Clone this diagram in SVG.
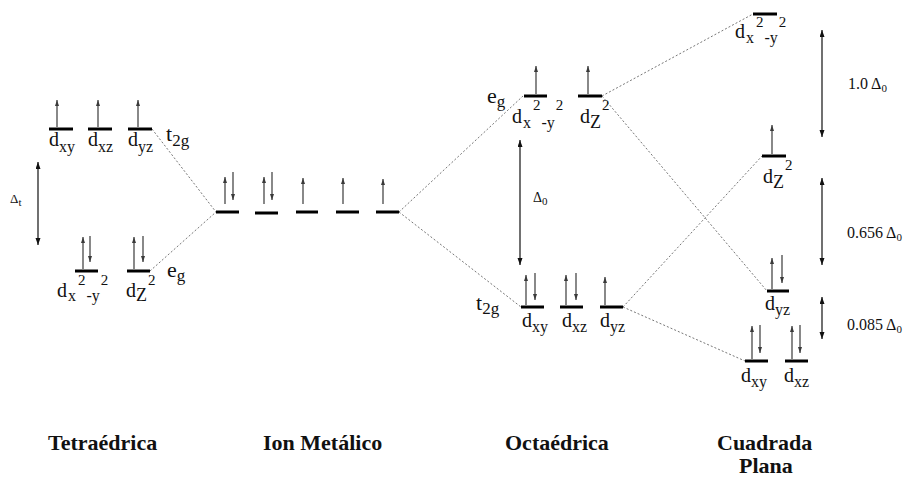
<svg xmlns="http://www.w3.org/2000/svg" width="911" height="478" viewBox="0 0 911 478" font-family="'Liberation Serif', 'Times New Roman', 'DejaVu Serif', serif">
  <style>
    .bar { stroke: #000; stroke-width: 3; }
    .e { stroke: #3a3a3a; stroke-width: 1.2; marker-end: url(#eh); }
    .gap { stroke: #111; stroke-width: 1.2; marker-start: url(#gh); marker-end: url(#gh); }
    .dot { stroke: #777; stroke-width: 1; stroke-dasharray: 2 2; fill: none; }
    text { font-family: "Liberation Serif", "Times New Roman", "DejaVu Serif", serif; fill: #111; }
    .d { font-size: 20px; }
    .sb { font-size: 16px; }
    .sp { font-size: 15px; }
    .z { font-size: 18px; }
    .lv { font-size: 22px; }
    .lvs { font-size: 17px; }
    .gv { font-size: 16px; }
    .gvs { font-size: 11px; }
    .title { font-size: 22px; font-weight: bold; }
  </style>
  <defs>
    <!-- electron spin arrowhead -->
    <marker id="eh" markerUnits="userSpaceOnUse" markerWidth="7" markerHeight="5" refX="6" refY="2" orient="auto">
      <path d="M0,0 L6,2 L0,4 z" fill="#3a3a3a"/>
    </marker>
    <!-- energy gap arrowhead -->
    <marker id="gh" markerUnits="userSpaceOnUse" markerWidth="8" markerHeight="6" refX="7" refY="2.5" orient="auto-start-reverse">
      <path d="M0,0 L7,2.5 L0,5 z" fill="#111"/>
    </marker>
  </defs>

  <!-- correlation lines between levels -->
  <g id="connectors">
    <line class="dot" x1="152" y1="129" x2="216" y2="212"/>
    <line class="dot" x1="150" y1="271" x2="216" y2="212"/>
    <line class="dot" x1="399" y1="212" x2="523" y2="96"/>
    <line class="dot" x1="399" y1="212" x2="521" y2="307"/>
    <line class="dot" x1="602" y1="96" x2="753" y2="14"/>
    <line class="dot" x1="602" y1="96" x2="767" y2="291"/>
    <line class="dot" x1="623" y1="307" x2="762" y2="156"/>
    <line class="dot" x1="623" y1="307" x2="745" y2="361"/>
  </g>

  <!-- Tetrahedral field -->
  <g id="tet-t2g">
    <line class="bar" x1="49" y1="129" x2="73" y2="129"/>
    <line class="bar" x1="88" y1="129" x2="112" y2="129"/>
    <line class="bar" x1="128" y1="129" x2="152" y2="129"/>
    <line class="e" x1="57" y1="127" x2="57" y2="100"/>
    <line class="e" x1="98" y1="127" x2="98" y2="100"/>
    <line class="e" x1="138" y1="127" x2="138" y2="100"/>
    <text x="49" y="146"><tspan class="d">d</tspan><tspan class="sb" y="152">xy</tspan></text>
    <text x="88" y="146"><tspan class="d">d</tspan><tspan class="sb" y="152">xz</tspan></text>
    <text x="128" y="146"><tspan class="d">d</tspan><tspan class="sb" y="152">yz</tspan></text>
    <text x="166" y="141"><tspan class="lv">t</tspan><tspan class="lvs" y="146">2g</tspan></text>
  </g>
  <g id="tet-eg">
    <line class="bar" x1="75" y1="271" x2="98" y2="271"/>
    <line class="bar" x1="127" y1="271" x2="150" y2="271"/>
    <line class="e" x1="83" y1="269" x2="83" y2="237"/>
    <line class="e" x1="90" y1="236" x2="90" y2="262"/>
    <line class="e" x1="134" y1="269" x2="134" y2="237"/>
    <line class="e" x1="143" y1="236" x2="143" y2="262"/>
    <text x="57" y="297"><tspan class="d">d</tspan><tspan class="sb" dx="1" y="301">x</tspan><tspan class="sp" dx="2" y="285">2</tspan><tspan class="sb" dx="1" y="301">-y</tspan><tspan class="sp" dx="1" y="285">2</tspan></text>
    <text x="126" y="297"><tspan class="d">d</tspan><tspan class="z" y="301">Z</tspan><tspan class="sp" dx="1" y="285">2</tspan></text>
    <text x="167" y="277"><tspan class="lv">e</tspan><tspan class="lvs" y="281">g</tspan></text>
  </g>
  <g id="tet-gap">
    <line class="gap" x1="38" y1="162" x2="38" y2="245"/>
    <text x="10" y="203"><tspan style="font-size:13px">Δ</tspan><tspan class="gvs" y="206">t</tspan></text>
  </g>

  <!-- Free metal ion -->
  <g id="ion">
    <line class="bar" x1="216" y1="212" x2="239" y2="212"/>
    <line class="bar" x1="255" y1="213" x2="278" y2="213"/>
    <line class="bar" x1="296" y1="212" x2="318" y2="212"/>
    <line class="bar" x1="336" y1="212" x2="359" y2="212"/>
    <line class="bar" x1="376" y1="212" x2="399" y2="212"/>
    <line class="e" x1="225" y1="204" x2="225" y2="177"/>
    <line class="e" x1="233" y1="172" x2="233" y2="200"/>
    <line class="e" x1="264" y1="204" x2="264" y2="177"/>
    <line class="e" x1="272" y1="172" x2="272" y2="200"/>
    <line class="e" x1="303" y1="204" x2="303" y2="178"/>
    <line class="e" x1="343" y1="204" x2="343" y2="178"/>
    <line class="e" x1="383" y1="204" x2="383" y2="179"/>
  </g>

  <!-- Octahedral field -->
  <g id="oct-eg">
    <line class="bar" x1="524" y1="96" x2="547" y2="96"/>
    <line class="bar" x1="578" y1="96" x2="602" y2="96"/>
    <line class="e" x1="536" y1="94" x2="536" y2="66"/>
    <line class="e" x1="588" y1="94" x2="588" y2="66"/>
    <text x="512" y="123"><tspan class="d">d</tspan><tspan class="sb" dx="1" y="128">x</tspan><tspan class="sp" dx="2" y="110">2</tspan><tspan class="sb" dx="1" y="128">-y</tspan><tspan class="sp" dx="1" y="110">2</tspan></text>
    <text x="580" y="123"><tspan class="d">d</tspan><tspan class="z" y="128">Z</tspan><tspan class="sp" dx="1" y="110">2</tspan></text>
    <text x="487" y="103"><tspan class="lv">e</tspan><tspan class="lvs" y="107">g</tspan></text>
  </g>
  <g id="oct-t2g">
    <line class="bar" x1="521" y1="307" x2="544" y2="307"/>
    <line class="bar" x1="560" y1="307" x2="583" y2="307"/>
    <line class="bar" x1="600" y1="307" x2="623" y2="307"/>
    <line class="e" x1="526" y1="305" x2="526" y2="275"/>
    <line class="e" x1="535" y1="273" x2="535" y2="300"/>
    <line class="e" x1="566" y1="305" x2="566" y2="275"/>
    <line class="e" x1="576" y1="273" x2="576" y2="300"/>
    <line class="e" x1="605" y1="305" x2="605" y2="277"/>
    <text x="522" y="327"><tspan class="d">d</tspan><tspan class="sb" y="332">xy</tspan></text>
    <text x="562" y="327"><tspan class="d">d</tspan><tspan class="sb" y="332">xz</tspan></text>
    <text x="600" y="327"><tspan class="d">d</tspan><tspan class="sb" y="332">yz</tspan></text>
    <text x="476" y="310"><tspan class="lv">t</tspan><tspan class="lvs" y="314">2g</tspan></text>
  </g>
  <g id="oct-gap">
    <line class="gap" x1="520" y1="140" x2="520" y2="265"/>
    <text x="533" y="202"><tspan style="font-size:14px">Δ</tspan><tspan class="gvs" y="205">0</tspan></text>
  </g>

  <!-- Square planar field -->
  <g id="sq-x2y2">
    <line class="bar" x1="753" y1="14" x2="777" y2="14"/>
    <text x="735" y="38"><tspan class="d">d</tspan><tspan class="sb" dx="1" y="43">x</tspan><tspan class="sp" dx="2" y="27">2</tspan><tspan class="sb" dx="1" y="43">-y</tspan><tspan class="sp" dx="1" y="27">2</tspan></text>
  </g>
  <g id="sq-z2">
    <line class="bar" x1="762" y1="156" x2="786" y2="156"/>
    <line class="e" x1="772" y1="154" x2="772" y2="125"/>
    <text x="763" y="183"><tspan class="d">d</tspan><tspan class="z" y="188">Z</tspan><tspan class="sp" dx="1" y="170">2</tspan></text>
  </g>
  <g id="sq-yz">
    <line class="bar" x1="767" y1="291" x2="789" y2="291"/>
    <line class="e" x1="772" y1="289" x2="772" y2="258"/>
    <line class="e" x1="782" y1="255" x2="782" y2="283"/>
    <text x="765" y="310"><tspan class="d">d</tspan><tspan class="sb" y="315">yz</tspan></text>
  </g>
  <g id="sq-xy-xz">
    <line class="bar" x1="745" y1="361" x2="768" y2="361"/>
    <line class="bar" x1="785" y1="361" x2="808" y2="361"/>
    <line class="e" x1="752" y1="359" x2="752" y2="326"/>
    <line class="e" x1="760" y1="325" x2="760" y2="353"/>
    <line class="e" x1="792" y1="359" x2="792" y2="326"/>
    <line class="e" x1="800" y1="325" x2="800" y2="353"/>
    <text x="741" y="382"><tspan class="d">d</tspan><tspan class="sb" y="387">xy</tspan></text>
    <text x="784" y="382"><tspan class="d">d</tspan><tspan class="sb" y="387">xz</tspan></text>
  </g>
  <g id="sq-gaps">
    <line class="gap" x1="822" y1="30" x2="822" y2="137"/>
    <line class="gap" x1="822" y1="178" x2="822" y2="265"/>
    <line class="gap" x1="822" y1="297" x2="822" y2="339"/>
    <text class="gv" x="848" y="89">1.0 Δ<tspan class="gvs" y="92">0</tspan></text>
    <text class="gv" x="847" y="238">0.656 Δ<tspan class="gvs" y="241">0</tspan></text>
    <text class="gv" x="847" y="330">0.085 Δ<tspan class="gvs" y="333">0</tspan></text>
  </g>

  <!-- Column titles -->
  <g id="titles">
    <text class="title" x="48" y="450">Tetraédrica</text>
    <text class="title" x="263" y="450">Ion Metálico</text>
    <text class="title" x="505" y="450">Octaédrica</text>
    <text class="title" x="717" y="450">Cuadrada</text>
    <text class="title" x="739" y="473">Plana</text>
  </g>
</svg>
